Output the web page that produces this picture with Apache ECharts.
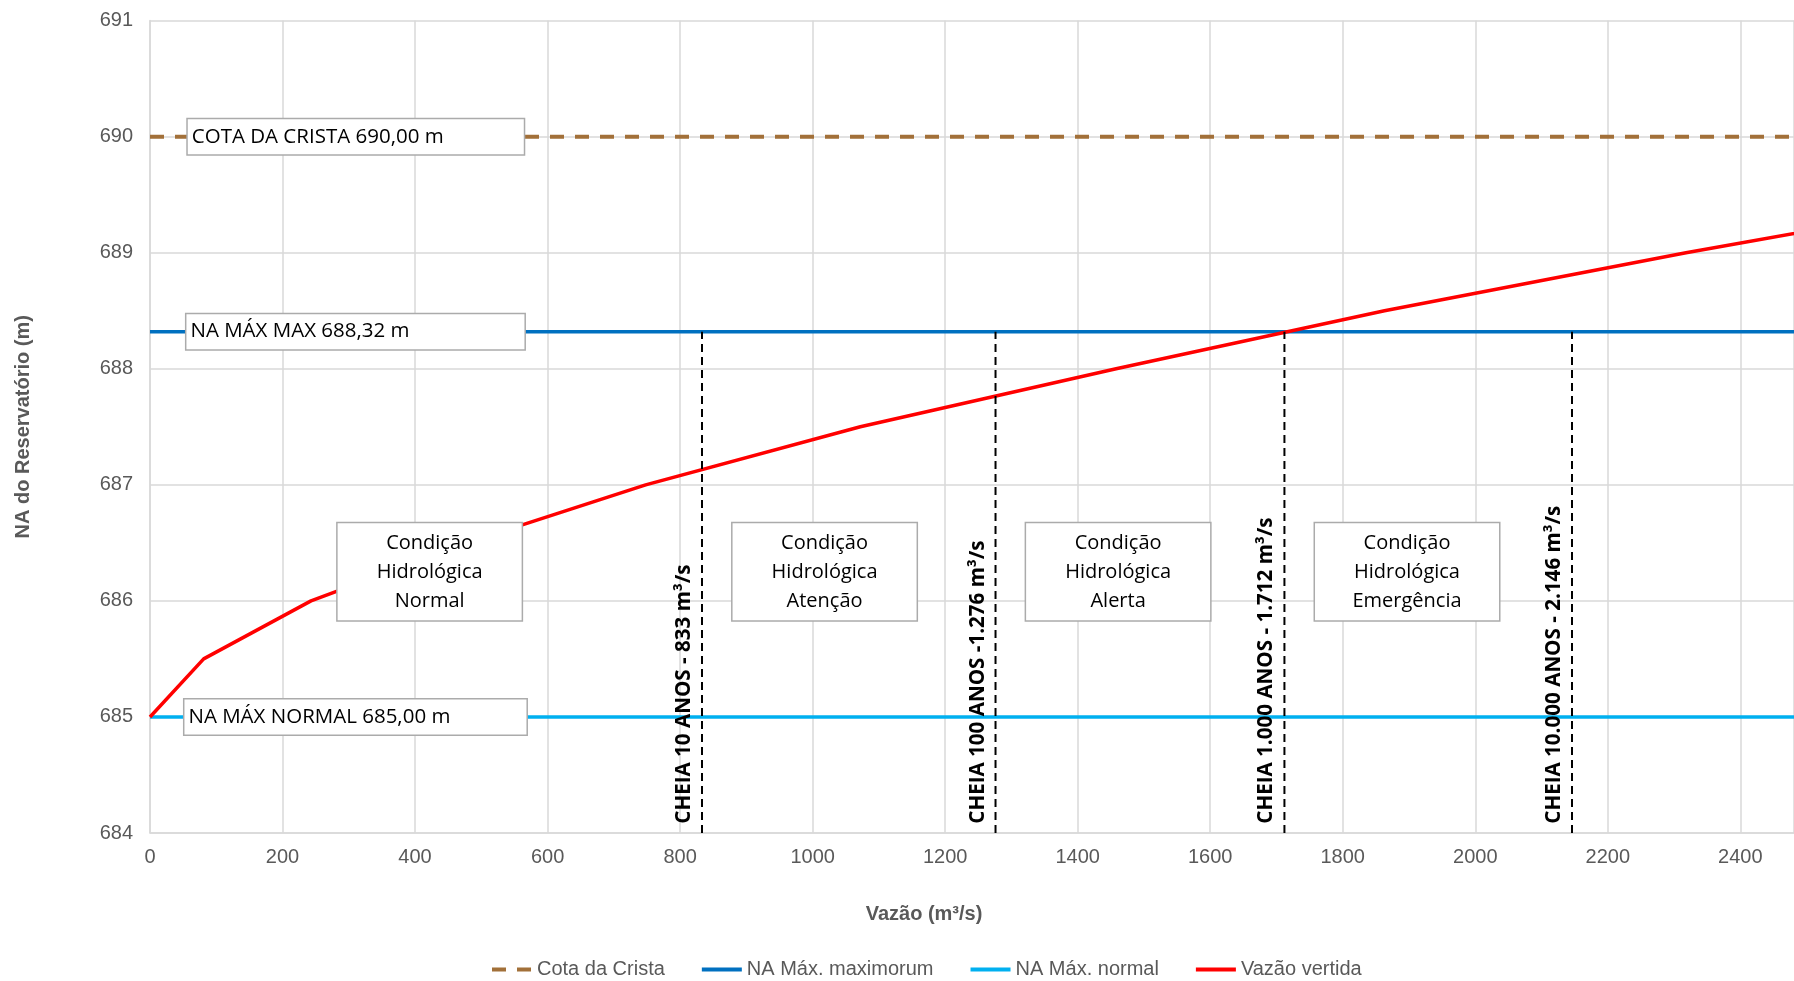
<!DOCTYPE html>
<html>
<head>
<meta charset="utf-8">
<script src="https://cdn.jsdelivr.net/npm/echarts@6/dist/echarts.min.js"></script>
<style>html,body{margin:0;padding:0;background:#fff}#c{width:1794px;height:981px}</style>
</head>
<body>
<div id="c"></div>
<script>
// ---- data ----
const xTicks = [0, 200, 400, 600, 800, 1000, 1200, 1400, 1600, 1800, 2000, 2200, 2400];
const yTicks = [684, 685, 686, 687, 688, 689, 690, 691];
const seriesNames = ['Cota da Crista', 'NA Máx. maximorum', 'NA Máx. normal', 'Vazão vertida'];
const crestLevel = 690.00;
const naMaxMaximorum = 688.32;
const naMaxNormal = 685.00;
const flowVertida  = [0, 81, 243, 478, 748, 1072, 1458, 1863, 2318, 2810];
const levelVertida = [685.0, 685.5, 686.0, 686.5, 687.0, 687.5, 688.0, 688.5, 689.0, 689.5];
const floodFlows = [833, 1276, 1712, 2146];
const floodLabels = ['CHEIA 10 ANOS - 833 m³/s', 'CHEIA 100 ANOS -1.276 m³/s', 'CHEIA 1.000 ANOS - 1.712 m³/s', 'CHEIA 10.000 ANOS - 2.146 m³/s'];
const levelLabels = ['COTA DA CRISTA 690,00 m', 'NA MÁX MAX 688,32 m', 'NA MÁX NORMAL 685,00 m'];
const conditionLabels = ['Condição\nHidrológica\nNormal', 'Condição\nHidrológica\nAtenção', 'Condição\nHidrológica\nAlerta', 'Condição\nHidrológica\nEmergência'];

// ---- chart ----
const X_MIN = 0, X_MAX = 2481, Y_MIN = yTicks[0], Y_MAX = yTicks[yTicks.length - 1];
const tickFont = 'Liberation Sans, Arial, sans-serif';
const noteFont = 'Open Sans, sans-serif';
const gray = '#595959';

const chart = echarts.init(document.getElementById('c'), null, {renderer: 'canvas'});

function levelBox(text, x, y, w) {
  return {
    coord: [x, y],
    label: {
      show: true, formatter: text, position: 'inside', align: 'left', verticalAlign: 'middle',
      backgroundColor: '#fff', borderColor: '#ABABAB', borderWidth: 1.5,
      width: w, height: 35, lineHeight: 35, padding: [0, 0, 0, 4],
      fontFamily: noteFont, fontSize: 20.5, color: '#000'
    }
  };
}
function condBox(text, x, y) {
  return {
    coord: [x, y],
    label: {
      show: true, formatter: text, position: 'inside', align: 'center', verticalAlign: 'middle',
      backgroundColor: '#fff', borderColor: '#ABABAB', borderWidth: 1.5,
      width: 180, height: 87, lineHeight: 29, padding: [6, 2, 4, 2],
      fontFamily: noteFont, fontSize: 20, color: '#000'
    }
  };
}
const mpBase = {symbol: 'circle', symbolSize: 0, itemStyle: {color: 'transparent'}, silent: true};

const vertData = flowVertida.map((f, i) => [f, levelVertida[i]]);

const floodSeries = floodFlows.map((f, i) => ({
  name: 'flood' + i, type: 'line', symbol: 'none', silent: true, z: 3,
  data: [[f, Y_MIN], [f, naMaxMaximorum]],
  lineStyle: {color: '#000', width: 2, type: [8, 5]},
  markPoint: Object.assign({}, mpBase, {
    data: [{
      coord: [f - 27, Y_MIN + 0.08],
      label: {
        show: true, formatter: floodLabels[i], position: 'inside', rotate: 90,
        align: 'left', verticalAlign: 'middle',
        fontFamily: noteFont, fontWeight: 'bold', fontSize: 20.6, color: '#000'
      }
    }]
  })
}));

const option = {
  animation: false,
  backgroundColor: '#fff',
  grid: {left: 150, right: 0, top: 20.6, bottom: 148, containLabel: false},
  legend: {
    data: seriesNames, left: 485, top: 954.5, itemWidth: 40, itemHeight: 14, itemGap: 35,
    itemStyle: {opacity: 0},
    lineStyle: {width: 4},
    textStyle: {fontFamily: tickFont, fontSize: 20, color: gray}
  },
  xAxis: {
    type: 'value', min: X_MIN, max: X_MAX, interval: 200,
    name: 'Vazão (m³/s)', nameLocation: 'middle', nameGap: 71,
    nameTextStyle: {fontFamily: tickFont, fontSize: 20, fontWeight: 'bold', color: gray, padding: [0, 96, 0, 0]},
    axisLine: {show: true, lineStyle: {color: '#D9D9D9', width: 1.5}},
    axisTick: {show: false},
    axisLabel: {showMaxLabel: false, margin: 14, fontFamily: tickFont, fontSize: 20, color: gray,
      formatter: v => (xTicks.indexOf(v) >= 0 ? String(v) : '')},
    splitLine: {show: true, lineStyle: {color: '#D9D9D9', width: 1.5}}
  },
  yAxis: {
    type: 'value', min: Y_MIN, max: Y_MAX, interval: 1,
    name: 'NA do Reservatório (m)', nameLocation: 'middle', nameGap: 117,
    nameTextStyle: {fontFamily: tickFont, fontSize: 20, fontWeight: 'bold', color: gray},
    axisLine: {show: true, lineStyle: {color: '#D9D9D9', width: 1.5}},
    axisTick: {show: false},
    axisLabel: {margin: 17, fontFamily: tickFont, fontSize: 20, color: gray,
      formatter: v => (yTicks.indexOf(v) >= 0 ? String(v) : '')},
    splitLine: {show: true, lineStyle: {color: '#D9D9D9', width: 1.5}}
  },
  series: [
    {
      name: seriesNames[0], type: 'line', symbol: 'none', z: 3,
      data: [[X_MIN, crestLevel], [X_MAX, crestLevel]],
      lineStyle: {color: '#A27039', width: 4, type: [14, 11]},
      itemStyle: {color: '#A27039'},
      markPoint: Object.assign({}, mpBase, {data: [levelBox(levelLabels[0], 57, crestLevel, 332)]})
    },
    {
      name: seriesNames[1], type: 'line', symbol: 'none', z: 3,
      data: [[X_MIN, naMaxMaximorum], [X_MAX, naMaxMaximorum]],
      lineStyle: {color: '#0070C0', width: 3.5},
      itemStyle: {color: '#0070C0'},
      markPoint: Object.assign({}, mpBase, {data: [levelBox(levelLabels[1], 55, naMaxMaximorum, 334)]})
    },
    {
      name: seriesNames[2], type: 'line', symbol: 'none', z: 3,
      data: [[X_MIN, naMaxNormal], [X_MAX, naMaxNormal]],
      lineStyle: {color: '#00B0F0', width: 3.5},
      itemStyle: {color: '#00B0F0'},
      markPoint: Object.assign({}, mpBase, {data: [levelBox(levelLabels[2], 52, naMaxNormal, 338)]})
    },
    {
      name: seriesNames[3], type: 'line', symbol: 'none', z: 3,
      data: vertData,
      lineStyle: {color: '#FF0000', width: 3.5},
      itemStyle: {color: '#FF0000'},
      markPoint: Object.assign({}, mpBase, {data: [
        condBox(conditionLabels[0], 422, 686.25),
        condBox(conditionLabels[1], 1018, 686.25),
        condBox(conditionLabels[2], 1461, 686.25),
        condBox(conditionLabels[3], 1897, 686.25)
      ]})
    }
  ].concat(floodSeries)
};
chart.setOption(option);
</script>
</body>
</html>
